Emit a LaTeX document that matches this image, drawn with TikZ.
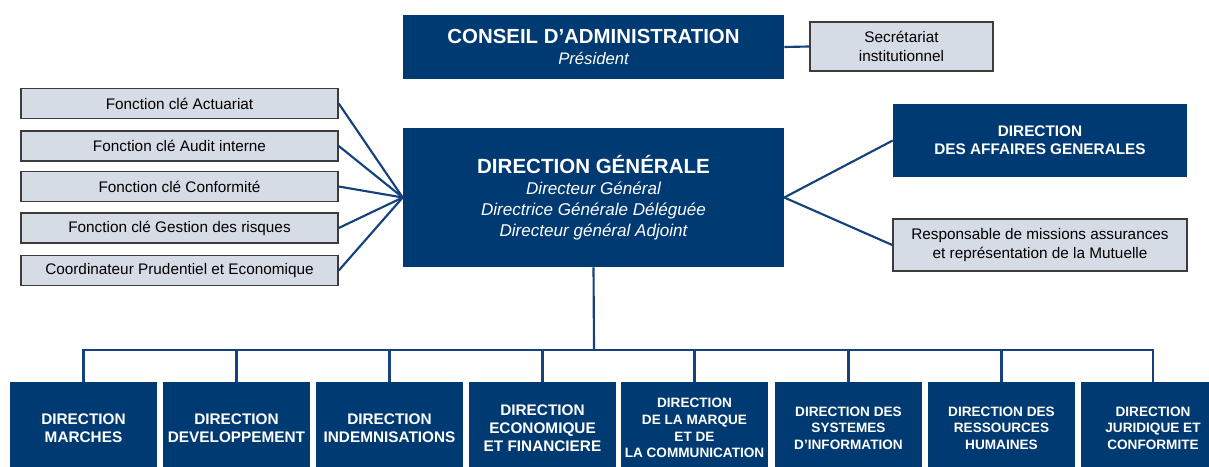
\documentclass[tikz,border=0pt]{standalone}
\usepackage{fontspec}
\setmainfont{Liberation Sans}
\usepackage{xcolor}
\usetikzlibrary{positioning}
\definecolor{navy}{RGB}{0,58,114}
\definecolor{navyline}{RGB}{20,66,124}
\definecolor{greyfill}{RGB}{214,220,229}
\definecolor{greyrule}{RGB}{60,60,60}

\begin{document}
\begin{tikzpicture}[x=0.75pt,y=-0.75pt,
    dirbox/.style={rectangle,fill=navy,text=white,inner sep=0pt,align=center},
    keybox/.style={rectangle,fill=greyfill,draw=greyrule,line width=1.1pt,inner sep=0pt,align=center,
      font=\fontsize{11.5}{14.3}\selectfont},
    fonctionbox/.style={keybox,minimum width=237.75pt,minimum height=22.5pt},
    unitbox/.style={dirbox,minimum width=110.25pt,minimum height=69pt,font=\bfseries\fontsize{11.5}{13.5}\selectfont},
    smallunitbox/.style={unitbox,font=\bfseries\fontsize{10.2}{12.5}\selectfont},
    link/.style={draw=navyline,line width=1.6pt}]
      \useasboundingbox (0,0) rectangle (1209,467);
      \node[dirbox,minimum width=285.75pt,minimum height=48pt,font=\itshape\fontsize{12.5}{16.3}\selectfont] (conseil) at (593.5,47)
        {{\upshape\bfseries\fontsize{15.3}{16.3}\selectfont CONSEIL D’ADMINISTRATION}\\Président};
      \node[keybox,minimum width=137.25pt,minimum height=36.75pt] (secretariat) at (901.5,46.5) {Secrétariat\\institutionnel};
      \node[dirbox,minimum width=285.75pt,minimum height=104.25pt,font=\itshape\fontsize{12.8}{15.6}\selectfont] (dg) at (593.5,197.5)
        {{\upshape\bfseries\fontsize{15.4}{15.6}\selectfont DIRECTION GÉNÉRALE}\\Directeur Général\\Directrice Générale Déléguée\\Directeur général Adjoint};
      \node[fonctionbox] (actuariat) at (179.5,103.5) {Fonction clé Actuariat};
      \node[fonctionbox] (audit) at (179.5,146) {Fonction clé Audit interne};
      \node[fonctionbox] (conformite) at (179.5,186.5) {Fonction clé Conformité};
      \node[fonctionbox] (risques) at (179.5,228) {Fonction clé Gestion des risques};
      \node[fonctionbox] (coordinateur) at (179.5,270.5) {Coordinateur Prudentiel et Economique};
      \node[dirbox,minimum width=220.5pt,minimum height=54.75pt,font=\bfseries\fontsize{11.5}{13.5}\selectfont] (affaires) at (1040,140.5)
        {DIRECTION\\DES AFFAIRES GENERALES};
      \node[keybox,minimum width=220.5pt,minimum height=39pt] (missions) at (1040,245)
        {Responsable de missions assurances\\et représentation de la Mutuelle};
      \node[unitbox] (marches) at (83.5,428) {DIRECTION\\MARCHES};
      \node[unitbox] (developpement) at (236.5,428) {DIRECTION\\DEVELOPPEMENT};
      \node[unitbox] (indemnisations) at (389.5,428) {DIRECTION\\INDEMNISATIONS};
      \node[unitbox] (ecofin) at (542.5,428) {DIRECTION\\ECONOMIQUE\\ET FINANCIERE};
      \node[smallunitbox] (marque) at (694.5,428) {DIRECTION\\DE LA MARQUE\\ET DE\\LA COMMUNICATION};
      \node[smallunitbox] (systemes) at (848.5,428) {DIRECTION DES\\SYSTEMES\\D’INFORMATION};
      \node[smallunitbox] (rh) at (1001.5,428) {DIRECTION DES\\RESSOURCES\\HUMAINES};
      \node[smallunitbox,minimum width=108pt] (juridique) at (1153,428) {DIRECTION\\JURIDIQUE ET\\CONFORMITE};
      \coordinate (bus) at (594,350);
      \draw[link] (conseil.east) -- (secretariat.west);
      \draw[link] (actuariat.east) -- (dg.west);
      \draw[link] (audit.east) -- (dg.west);
      \draw[link] (conformite.east) -- (dg.west);
      \draw[link] (risques.east) -- (dg.west);
      \draw[link] (coordinateur.east) -- (dg.west);
      \draw[link] (dg.east) -- (affaires.west);
      \draw[link] (dg.east) -- (missions.west);
      \draw[link] (dg.south) -- (bus);
      \draw[link] (marches.north) |- (bus) -| (juridique.north);
      \draw[link] (developpement.north) -- (developpement.north |- bus);
      \draw[link] (indemnisations.north) -- (indemnisations.north |- bus);
      \draw[link] (ecofin.north) -- (ecofin.north |- bus);
      \draw[link] (marque.north) -- (marque.north |- bus);
      \draw[link] (systemes.north) -- (systemes.north |- bus);
      \draw[link] (rh.north) -- (rh.north |- bus);
    \end{tikzpicture}
\end{document}
